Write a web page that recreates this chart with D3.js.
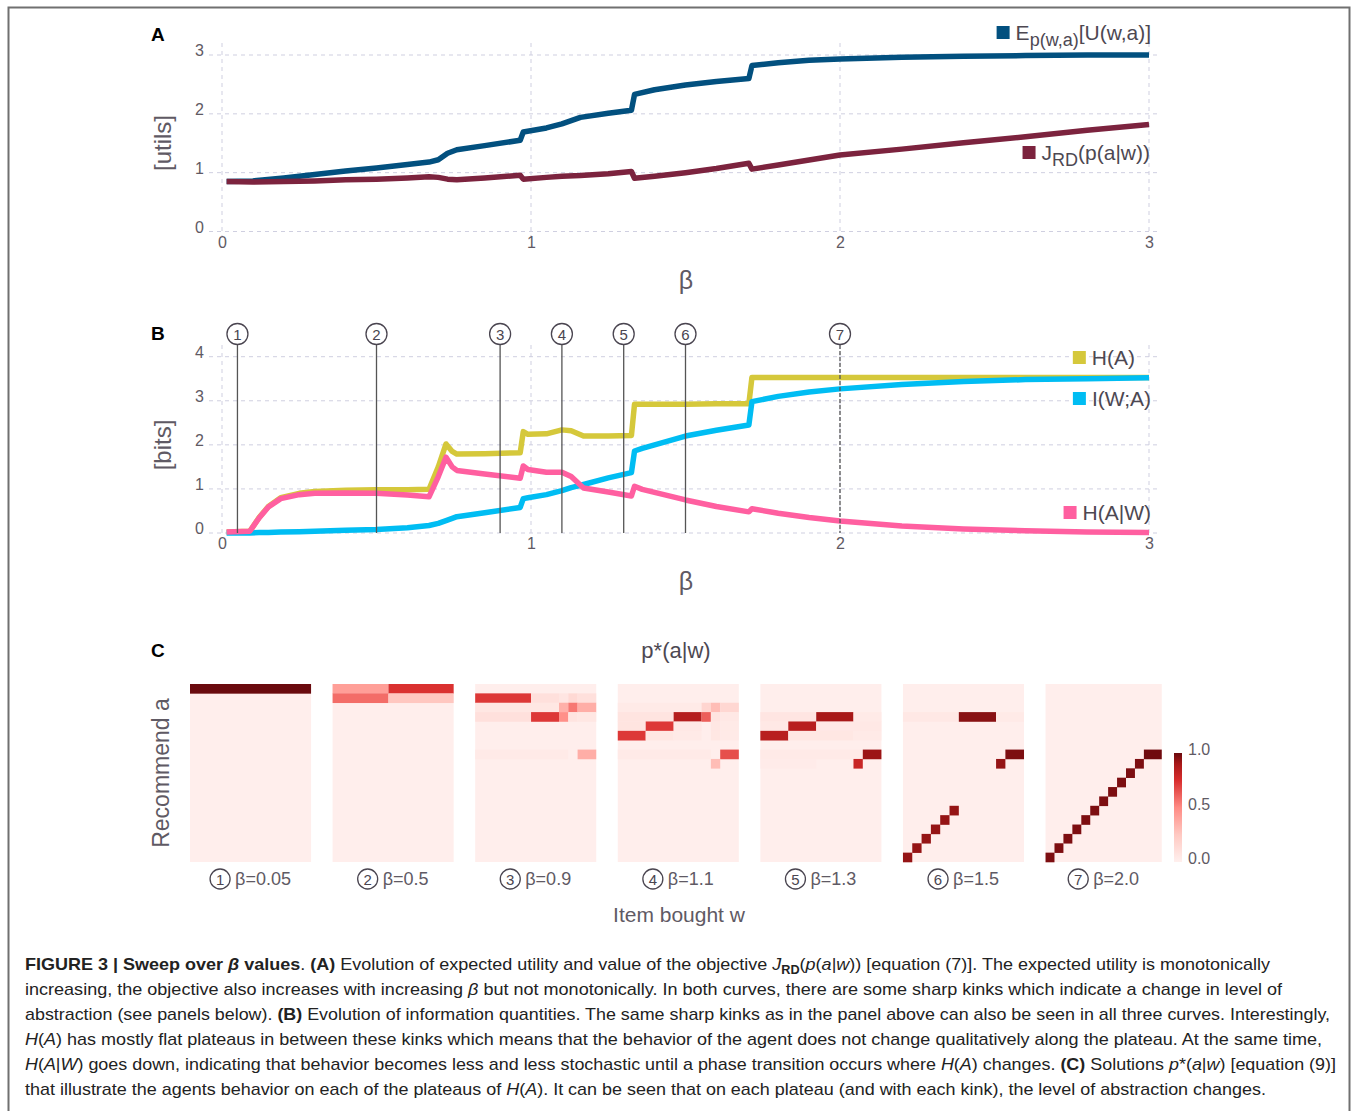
<!DOCTYPE html>
<meta charset="utf-8">
<style>
body { margin: 0; background: #fff; }
text { font-family: "Liberation Sans", Arial, sans-serif; }
</style>
<body>
<script src="https://cdn.jsdelivr.net/npm/d3@7"></script>
<script>
// ---- panel A : utilities vs beta
var betaA = [0.015, 0.1, 0.2, 0.3, 0.4, 0.5, 0.6, 0.67, 0.7, 0.73, 0.76, 0.85, 0.965, 0.975, 1.05, 1.1, 1.16, 1.25, 1.325, 1.335, 1.4, 1.5, 1.6, 1.705, 1.715, 1.8, 1.9, 2.0, 2.2, 2.4, 2.6, 2.8, 3.0];
var expU  = [0.85, 0.86, 0.91, 0.97, 1.03, 1.08, 1.14, 1.18, 1.22, 1.33, 1.39, 1.46, 1.55, 1.69, 1.76, 1.83, 1.94, 2.01, 2.06, 2.33, 2.41, 2.49, 2.55, 2.6, 2.82, 2.87, 2.91, 2.93, 2.96, 2.98, 2.99, 3.0, 3.0];
var jRD   = [0.85, 0.84, 0.85, 0.86, 0.88, 0.89, 0.91, 0.93, 0.92, 0.89, 0.88, 0.91, 0.955, 0.89, 0.92, 0.94, 0.95, 0.98, 1.02, 0.905, 0.94, 1.0, 1.07, 1.16, 1.06, 1.13, 1.215, 1.30, 1.40, 1.51, 1.61, 1.72, 1.82];

// ---- panel B : information quantities vs beta
var betaB = [0.015, 0.09, 0.12, 0.15, 0.19, 0.25, 0.3, 0.4, 0.5, 0.6, 0.67, 0.7, 0.725, 0.745, 0.76, 0.85, 0.965, 0.975, 0.99, 1.05, 1.1, 1.13, 1.17, 1.25, 1.325, 1.335, 1.36, 1.4, 1.5, 1.6, 1.705, 1.715, 1.8, 1.9, 2.0, 2.2, 2.4, 2.6, 2.8, 3.0];
var hA  = [0.02, 0.04, 0.35, 0.6, 0.8, 0.9, 0.94, 0.97, 0.98, 0.98, 0.99, 1.5, 2.02, 1.85, 1.79, 1.8, 1.82, 2.3, 2.24, 2.25, 2.34, 2.32, 2.2, 2.2, 2.21, 2.92, 2.92, 2.92, 2.92, 2.93, 2.93, 3.53, 3.53, 3.53, 3.53, 3.53, 3.53, 3.53, 3.53, 3.53];
var iWA = [0.0, 0.0, 0.01, 0.01, 0.02, 0.03, 0.04, 0.06, 0.08, 0.12, 0.17, 0.22, 0.28, 0.33, 0.37, 0.46, 0.58, 0.78, 0.8, 0.87, 0.96, 1.03, 1.1, 1.25, 1.37, 1.86, 1.92, 2.0, 2.2, 2.33, 2.45, 2.98, 3.1, 3.2, 3.27, 3.37, 3.44, 3.48, 3.5, 3.52];
var hAW = [0.02, 0.04, 0.34, 0.59, 0.78, 0.87, 0.9, 0.91, 0.9, 0.86, 0.82, 1.28, 1.72, 1.5, 1.42, 1.34, 1.24, 1.52, 1.44, 1.38, 1.38, 1.28, 1.02, 0.93, 0.84, 1.06, 0.99, 0.92, 0.75, 0.6, 0.48, 0.55, 0.45, 0.35, 0.27, 0.16, 0.09, 0.05, 0.02, 0.01];

// ---- panel C : p*(a|w), 19 actions x 13 items, runs [row, colFrom, colTo, p]
var betasC = [0.05, 0.5, 0.9, 1.1, 1.3, 1.5, 2.0];
var betaLabels = ["0.05", "0.5", "0.9", "1.1", "1.3", "1.5", "2.0"];
var nA = 19, nW = 13, pBackground = 0.01;
var heat1 = [[0,0,12,1.0]];
var heat2 = [[0,0,5,0.42],[0,6,12,0.74],[1,0,5,0.58],[1,6,12,0.26]];
var heat3 = [[1,0,5,0.72],[1,6,8,0.1],[1,9,9,0.07],[1,10,10,0.15],[1,11,12,0.1],
             [2,0,8,0.06],[2,9,9,0.35],[2,10,10,0.55],[2,11,12,0.36],
             [3,0,5,0.1],[3,6,8,0.72],[3,9,9,0.48],[3,10,10,0.08],[3,11,12,0.06],
             [7,0,9,0.04],[7,11,12,0.36]];
var heat4 = [[2,0,8,0.04],[2,9,9,0.17],[2,10,10,0.3],[2,11,12,0.16],
             [3,0,5,0.08],[3,6,8,0.86],[3,9,9,0.62],[3,10,10,0.08],[3,11,12,0.05],
             [4,0,2,0.08],[4,3,5,0.72],[4,6,8,0.05],[4,10,10,0.06],[4,11,12,0.04],
             [5,0,2,0.72],[5,3,5,0.06],[5,6,8,0.04],[5,10,10,0.06],[5,11,12,0.04],
             [7,0,9,0.04],[7,11,12,0.66],[8,10,10,0.3]];
var heat5 = [[3,0,5,0.07],[3,6,9,0.9],[3,10,12,0.04],
             [4,0,2,0.05],[4,3,5,0.85],[4,6,12,0.05],
             [5,0,2,0.85],[5,3,9,0.06],[5,10,12,0.04],
             [7,0,10,0.04],[7,11,12,0.92],[8,0,5,0.03],[8,10,10,0.8]];
var heat6 = [[3,0,5,0.05],[3,6,9,0.95],[3,10,12,0.04],[7,11,12,0.97],[8,10,10,0.93],
             [13,5,5,0.93],[14,4,4,0.93],[15,3,3,0.93],[16,2,2,0.93],[17,1,1,0.93],[18,0,0,0.93]];
var heat7 = [[7,11,12,0.99],[8,10,10,0.97],[9,9,9,0.97],[10,8,8,0.97],[11,7,7,0.97],[12,6,6,0.97],
             [13,5,5,0.97],[14,4,4,0.97],[15,3,3,0.97],[16,2,2,0.97],[17,1,1,0.97],[18,0,0,0.97]];
var heats = [heat1, heat2, heat3, heat4, heat5, heat6, heat7];

var grid = "#cfcfe0", tickCol = "#5f5a64";

var svg = d3.select("body").append("svg")
    .attr("width", 1356)
    .attr("height", 1111);

svg.append("rect")
    .attr("x", 8.5).attr("y", 7.5)
    .attr("width", 1341).attr("height", 1120)
    .attr("fill", "none").attr("stroke", "#707070").attr("stroke-width", 2);

var x = d3.scaleLinear().domain([0, 3]).range([222, 1149]);
var yA = d3.scaleLinear().domain([0, 3]).range([231.5, 55]);
var yB = d3.scaleLinear().domain([0, 4]).range([533, 356.7]);

function panel(y, yTicks, top, title, titleY) {
    var g = svg.append("g");
    g.selectAll(".hg").data(yTicks).enter().append("line")
        .attr("x1", 209).attr("x2", 1160)
        .attr("y1", y).attr("y2", y)
        .attr("stroke", grid).attr("stroke-dasharray", "4,4");
    g.selectAll(".vg").data([0, 1, 2, 3]).enter().append("line")
        .attr("x1", x).attr("x2", x)
        .attr("y1", top).attr("y2", y(0) + 5)
        .attr("stroke", grid).attr("stroke-dasharray", "4,4");

    var xa = g.append("g")
        .attr("transform", "translate(0," + y(0) + ")")
        .call(d3.axisBottom(x).tickValues([0, 1, 2, 3]).tickSize(0).tickPadding(5).tickFormat(d3.format("d")));
    var ya = g.append("g")
        .attr("transform", "translate(222,0)")
        .call(d3.axisLeft(y).tickValues(yTicks).tickSize(0).tickPadding(18).tickFormat(d3.format("d")));
    ya.selectAll("text").attr("dy", "0.05em");
    [xa, ya].forEach(function(a) {
        a.select(".domain").remove();
        a.selectAll("text").attr("fill", tickCol).style("font-size", "16px");
    });

    g.append("text").text("β")
        .attr("x", 686).attr("y", y(0) + 57)
        .attr("text-anchor", "middle").attr("fill", tickCol).style("font-size", "25px");
    g.append("text").text(title)
        .attr("transform", "translate(171," + titleY + ") rotate(-90)")
        .attr("text-anchor", "middle").attr("fill", tickCol).style("font-size", "24px");
    return g;
}

// ---- panel A
var gA = panel(yA, [0, 1, 2, 3], 43, "[utils]", 143);
svg.append("text").text("A").attr("x", 151).attr("y", 41)
    .style("font-size", "19px").style("font-weight", "bold");

function drawLine(g, y, bx, vals, col) {
    g.append("path")
        .datum(d3.zip(bx, vals))
        .attr("fill", "none").attr("stroke", col).attr("stroke-width", 5.5)
        .attr("stroke-linejoin", "round")
        .attr("d", d3.line().x(function(d) { return x(d[0]); }).y(function(d) { return y(d[1]); }));
}
drawLine(gA, yA, betaA, expU, "#02507f");
drawLine(gA, yA, betaA, jRD, "#7c233e");

function legendItem(g, xr, yb, col, parts) {
    var t = g.append("text").attr("x", xr).attr("y", yb)
        .attr("text-anchor", "end").attr("fill", "#4d4852").style("font-size", "21px");
    parts.forEach(function(p) {
        var s = t.append("tspan").text(p[0]);
        if (p[1]) s.attr("dy", p[1]);
        if (p[2]) s.style("font-size", p[2]);
    });
    var w = t.node().getComputedTextLength();
    g.append("rect").attr("x", xr - w - 19).attr("y", yb - 14)
        .attr("width", 13).attr("height", 13).attr("fill", col);
}
legendItem(gA, 1151, 40, "#02507f", [["E"], ["p(w,a)", 6, "18px"], ["[U(w,a)]", -6, "21px"]]);
legendItem(gA, 1150, 160, "#7c233e", [["J"], ["RD", 6, "18px"], ["(p(a|w))", -6, "21px"]]);

// ---- panel B
var gB = panel(yB, [0, 1, 2, 3, 4], 345, "[bits]", 445);
svg.append("text").text("B").attr("x", 151).attr("y", 340)
    .style("font-size", "19px").style("font-weight", "bold");

drawLine(gB, yB, betaB, hA, "#d5c83b");
drawLine(gB, yB, betaB, iWA, "#00bdf3");
drawLine(gB, yB, betaB, hAW, "#ff5fa0");

legendItem(gB, 1135, 365, "#d5c83b", [["H(A)"]]);
legendItem(gB, 1151, 406, "#00bdf3", [["I(W;A)"]]);
legendItem(gB, 1151, 520, "#ff5fa0", [["H(A|W)"]]);

var mk = gB.selectAll(".mk").data(betasC).enter().append("g");
mk.append("line")
    .attr("x1", x).attr("x2", x).attr("y1", 345).attr("y2", yB(0))
    .attr("stroke", "#555").attr("stroke-width", 1.3)
    .attr("stroke-dasharray", function(d, i) { return i === 6 ? "4,2" : null; });
mk.append("circle")
    .attr("cx", x).attr("cy", 334).attr("r", 10.5)
    .attr("fill", "#fff").attr("stroke", "#4a4550").attr("stroke-width", 1.3);
mk.append("text")
    .text(function(d, i) { return i + 1; })
    .attr("x", x).attr("y", 339.5)
    .attr("text-anchor", "middle").attr("fill", "#4a4550").style("font-size", "15px");

// ---- panel C
svg.append("text").text("C").attr("x", 151).attr("y", 657)
    .style("font-size", "19px").style("font-weight", "bold");
svg.append("text").text("p*(a|w)").attr("x", 676).attr("y", 658)
    .attr("text-anchor", "middle").attr("fill", "#4d4852").style("font-size", "22px");
svg.append("text").text("Item bought w").attr("x", 679).attr("y", 922)
    .attr("text-anchor", "middle").attr("fill", "#5f5a64").style("font-size", "21px");
svg.append("text").text("Recommend a")
    .attr("transform", "translate(169,773) rotate(-90)")
    .attr("text-anchor", "middle").attr("fill", "#5f5a64").style("font-size", "23px");

var color = d3.scaleLinear()
    .domain([0, 0.25, 0.5, 0.75, 0.9, 1])
    .range(["#fff0ee", "#ffc9c2", "#ff8b84", "#d82d2d", "#a81818", "#6a0a0e"]);

var hx = d3.scaleBand().domain(d3.range(betasC.length)).range([190, 1166.6]).paddingInner(0.151);
var hRow = d3.scaleBand().domain(d3.range(nA)).range([684, 862]);
// the last map is drawn slightly narrower to leave room for the colour bar
var hWidth = function(k) { return k === betasC.length - 1 ? hx.bandwidth() * 0.96 : hx.bandwidth(); };

heats.forEach(function(runs, k) {
    var hCol = d3.scaleBand().domain(d3.range(nW)).range([hx(k), hx(k) + hWidth(k)]);
    var g = svg.append("g");
    g.append("rect")
        .attr("x", hx(k)).attr("y", hRow(0))
        .attr("width", hWidth(k)).attr("height", hRow.step() * nA)
        .attr("fill", color(pBackground));
    g.selectAll("rect.c").data(runs).enter().append("rect")
        .attr("class", "c")
        .attr("x", function(d) { return hCol(d[1]); })
        .attr("y", function(d) { return hRow(d[0]); })
        .attr("width", function(d) { return hCol(d[2]) + hCol.step() - hCol(d[1]); })
        .attr("height", hRow.step() + 0.3)
        .attr("fill", function(d) { return color(d[3]); });

    // label under each map
    var cx = hx(k) + hWidth(k) / 2;
    var lab = g.append("text").text("β=" + betaLabels[k])
        .attr("y", 885).attr("fill", "#5f5a64").style("font-size", "18px");
    var w = lab.node().getComputedTextLength();
    var left = cx - (w + 25) / 2;
    lab.attr("x", left + 25);
    g.append("circle").attr("cx", left + 10).attr("cy", 879).attr("r", 10)
        .attr("fill", "none").attr("stroke", "#4a4550").attr("stroke-width", 1.3);
    g.append("text").text(k + 1).attr("x", left + 10).attr("y", 884.5)
        .attr("text-anchor", "middle").attr("fill", "#4a4550").style("font-size", "15px");
});

// colour bar
var defs = svg.append("defs");
var grad = defs.append("linearGradient").attr("id", "cbar")
    .attr("x1", 0).attr("y1", 1).attr("x2", 0).attr("y2", 0);
grad.selectAll("stop").data(color.domain()).enter().append("stop")
    .attr("offset", function(d) { return d; })
    .attr("stop-color", function(d) { return color(d); });
var cb = d3.scaleLinear().domain([0, 1]).range([862, 753]);
svg.append("rect").attr("x", 1174).attr("y", cb(1)).attr("width", 8)
    .attr("height", cb(0) - cb(1)).attr("fill", "url(#cbar)");
var cba = svg.append("g").attr("transform", "translate(1182,0)")
    .call(d3.axisRight(cb).tickValues([0, 0.5, 1]).tickSize(0).tickPadding(6).tickFormat(d3.format(".1f")));
cba.select(".domain").remove();
cba.selectAll("text").attr("fill", tickCol).style("font-size", "16px").attr("dy", "0.1em");

// ---- caption
var caption = [
  { w: 1245, parts: [["FIGURE 3 | Sweep over ", "b"], ["β", "bi"], [" values", "b"], [". "], ["(A)", "b"],
      [" Evolution of expected utility and value of the objective "], ["J", "i"], ["RD", "sub"], ["(", "up"], ["p", "i"], ["("], ["a", "i"], ["|"], ["w", "i"],
      [")) [equation (7)]. The expected utility is monotonically"]] },
  { w: 1257, parts: [["increasing, the objective also increases with increasing "], ["β", "i"],
      [" but not monotonically. In both curves, there are some sharp kinks which indicate a change in level of"]] },
  { w: 1305, parts: [["abstraction (see panels below). "], ["(B)", "b"],
      [" Evolution of information quantities. The same sharp kinks as in the panel above can also be seen in all three curves. Interestingly,"]] },
  { w: 1297, parts: [["H", "i"], ["("], ["A", "i"],
      [") has mostly flat plateaus in between these kinks which means that the behavior of the agent does not change qualitatively along the plateau. At the same time,"]] },
  { w: 1311, parts: [["H", "i"], ["("], ["A", "i"], ["|"], ["W", "i"],
      [") goes down, indicating that behavior becomes less and less stochastic until a phase transition occurs where "], ["H", "i"], ["("], ["A", "i"], [") changes. "],
      ["(C)", "b"], [" Solutions "], ["p", "i"], ["*("], ["a", "i"], ["|"], ["w", "i"], [") [equation (9)]"]] },
  { w: 1241, parts: [["that illustrate the agents behavior on each of the plateaus of "], ["H", "i"], ["("], ["A", "i"],
      ["). It can be seen that on each plateau (and with each kink), the level of abstraction changes."]] }
];
caption.forEach(function(line, i) {
    var t = svg.append("text").attr("x", 25).attr("y", 970 + 25 * i)
        .attr("fill", "#222").style("font-size", "17px");
    line.parts.forEach(function(p) {
        var s = t.append("tspan").text(p[0]);
        var st = p[1] || "";
        if (st.indexOf("b") >= 0) s.style("font-weight", "bold");
        if (st.indexOf("i") >= 0) s.style("font-style", "italic");
        if (st === "sub") s.attr("dy", 4).style("font-size", "12px");
        if (st === "up") s.attr("dy", -4);
    });
    t.attr("textLength", line.w).attr("lengthAdjust", "spacingAndGlyphs");
});
</script>
</body>
